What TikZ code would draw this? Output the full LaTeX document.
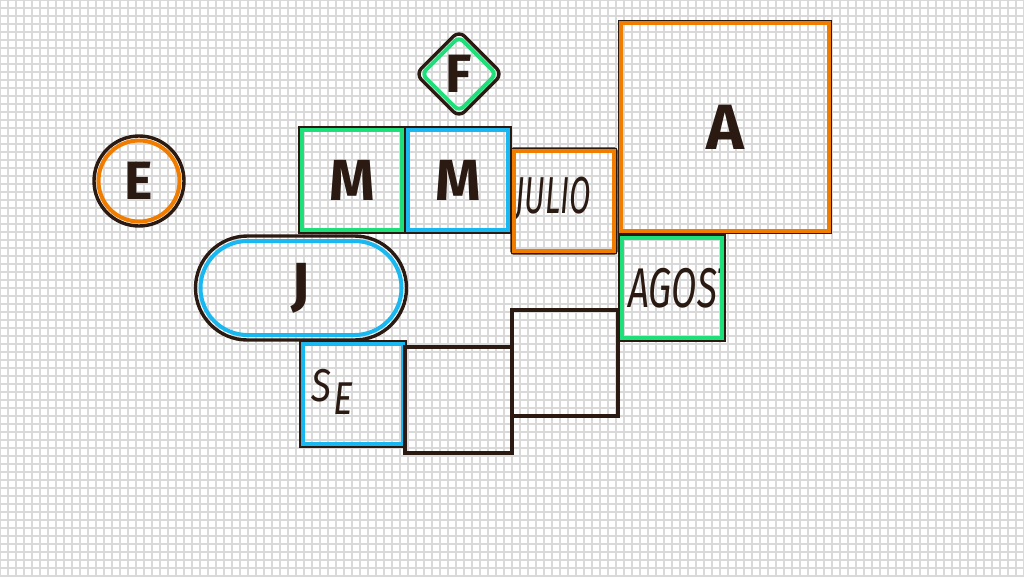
\documentclass[tikz,border=0pt]{standalone}
\usepackage{fontspec}
\setmainfont{Fira Sans}
\usetikzlibrary{shapes.geometric,shapes.misc}
\definecolor{ink}{HTML}{2A1A12}
\definecolor{org}{HTML}{F07C00}
\definecolor{grn}{HTML}{1EE07A}
\definecolor{blu}{HTML}{1AB8F0}
\definecolor{grd}{HTML}{D9D9D9}
\begin{document}
\begin{tikzpicture}[x=1pt,y=-1pt,
  outer/.style={draw=ink,line width=3.4pt,inner sep=0pt,text=ink},
  box/.style={outer,rectangle,minimum width=#1,minimum height=#1},
  inb/.style={draw=#1,line width=4pt,rectangle},
  big/.style={font=\bfseries\fontsize{#1}{#1}\selectfont},
  ital/.style={font=\itshape\fontsize{#1}{#1}\selectfont}]
\useasboundingbox (0,0) rectangle (1024,576);
\fill[white] (0,0) rectangle (1024,576);
\foreach \x in {0,8,...,1024} \draw[grd,line width=2pt] (\x,0) -- (\x,576);
\foreach \y in {0,8,...,576} \draw[grd,line width=2pt] (0,\y) -- (1024,\y);
% E
\node[outer,circle,minimum size=90] (e) at (139,181) {};
\node[draw=org,line width=4pt,circle,minimum size=81,inner sep=0pt,big=54pt,text=ink] (ei) at (139,181) {E};
% F
\node[outer,diamond,rounded corners=8pt,minimum size=88] (f) at (459,74) {};
\node[draw=grn,line width=4pt,diamond,rounded corners=6pt,minimum size=76,inner sep=0pt,big=54pt,text=ink] (fi) at (459,74) {F};
% M M
\node[box=104] (m1) at (352,180) {};
\draw[inb=grn] ([shift={(3.5,3.5)}]m1.north west) rectangle ([shift={(-3.5,-3.5)}]m1.south east);
\node[big=58pt,text=ink] at (352,180) {M};
\node[box=104] (m2) at (458,180) {};
\draw[inb=blu] ([shift={(3.5,3.5)}]m2.north west) rectangle ([shift={(-3.5,-3.5)}]m2.south east);
\node[big=58pt,text=ink] at (458,180) {M};
% JULIO
\node[box=104,rounded corners=2pt,path picture={\node[ital=52pt,text=ink,xscale=0.6,transform shape,anchor=east] at ([xshift=80pt,yshift=2pt]path picture bounding box.west) {JULIO};}] (jul) at (564,201) {};
\draw[inb=org] ([shift={(3.5,3.5)}]jul.north west) rectangle ([shift={(-3.5,-3.5)}]jul.south east);
% A
\node[box=211] (a) at (725,127) {};
\draw[inb=org] ([shift={(3.5,3.5)}]a.north west) rectangle ([shift={(-3.5,-3.5)}]a.south east);
\node[big=64pt,text=ink] at (725,127) {A};
% AGOS
\node[box=104,path picture={\node[ital=56pt,text=ink,xscale=0.66,transform shape,anchor=west] at ([xshift=7pt]path picture bounding box.west) {AGOSTO};}] (ago) at (672,288) {};
\draw[inb=grn] ([shift={(3.5,3.5)}]ago.north west) rectangle ([shift={(-3.5,-3.5)}]ago.south east);
% J
\node[outer,rounded rectangle,minimum width=211,minimum height=104] (j) at (301,288) {};
\node[draw=blu,line width=4pt,rounded rectangle,minimum width=201,minimum height=94,inner sep=0pt,big=58pt,text=ink] (ji) at (301,288) {J};
% SE
\node[box=104] (se) at (353,394) {};
\draw[inb=blu] ([shift={(3.5,3.5)}]se.north west) rectangle ([shift={(-3.5,-3.5)}]se.south east);
\node[ital=46pt,text=ink,xscale=0.8,anchor=base west] (s) at (309,401) {S};
\node[ital=46pt,text=ink,xscale=0.8,anchor=base west] (s2) at (331,414) {E};
% plain boxes
\node[outer,rectangle,minimum width=107,minimum height=106] (p1) at (458.5,400) {};
\node[outer,rectangle,minimum width=106,minimum height=106] (p2) at (565,363) {};
\end{tikzpicture}
\end{document}
